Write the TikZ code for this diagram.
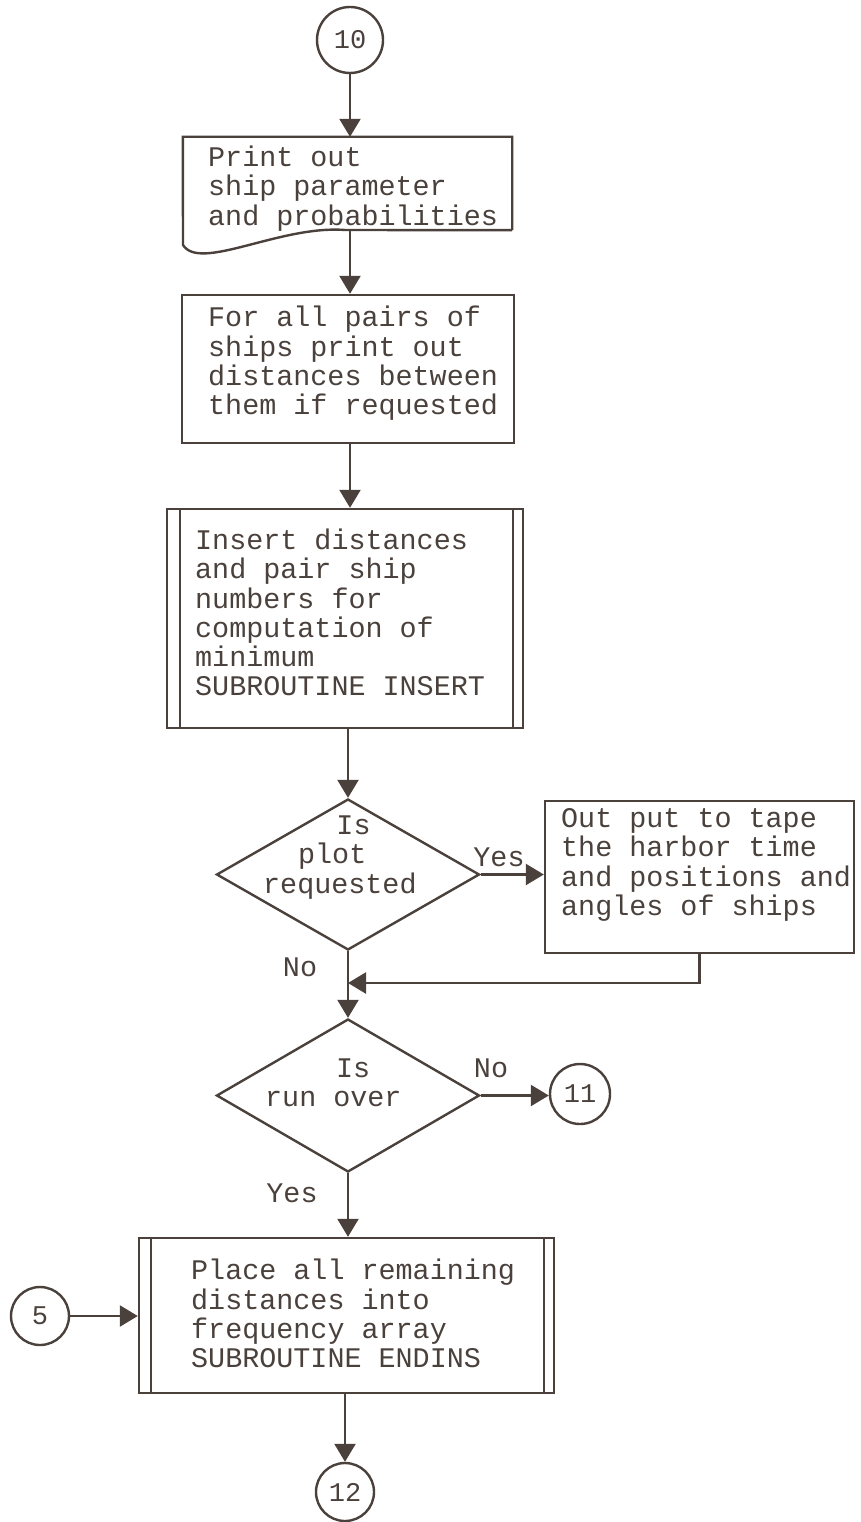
\documentclass[tikz,border=0pt]{standalone}
\usepackage{fontspec}
\newfontfamily\tw{Liberation Mono}
\usetikzlibrary{arrows.meta,shapes.geometric,calc}
\definecolor{ink}{HTML}{4A413C}
\tikzset{
  box/.style={draw=ink, rectangle, inner sep=0pt, line width=2.4pt},
  txt/.style={font=\tw\fontsize{28.4}{29.3}\selectfont, text=ink, align=left, inner sep=0pt, anchor=west},
  lab/.style={font=\tw\fontsize{28.4}{29.3}\selectfont, text=ink, inner sep=0pt},
  conn/.style={draw=ink, circle, inner sep=0pt, line width=2.4pt, font=\tw\fontsize{27}{29}\selectfont, text=ink},
  dec/.style={draw=ink, diamond, inner sep=0pt, line width=2.4pt},
  arr/.style={-{Triangle[length=18pt,width=21pt]}, draw=ink, line width=2.4pt},
  ln/.style={draw=ink, line width=2.4pt}
}
\begin{document}
\begin{tikzpicture}[x=1pt,y=-1pt]
\useasboundingbox (0,0) rectangle (860,1522);
\fill[white] (0,0) rectangle (860,1522);

% connectors (circles)
\node[conn, minimum size=66pt] (c10) at (350,40) {10};
\node[conn, minimum size=60pt] (c11) at (580,1094) {11};
\node[conn, minimum size=58pt] (c5) at (40,1316) {5};
\node[conn, minimum size=58pt] (c12) at (345,1492) {12};

% document box
\node[minimum width=329pt, minimum height=93pt, inner sep=0pt] (d1) at (347.5,183.5) {};
\draw[ln] (d1.south east) -- (d1.north east) -- (d1.north west) -- (183,245)
  .. controls (200,272) and (280,225) .. (345,230) -- (d1.south east);
\node[txt] (t1) at (208,188.5) {Print out\\ship parameter\\and probabilities};

% process box
\node[box, minimum width=332pt, minimum height=148pt] (b2) at (348,369) {};
\node[txt] (t2) at (208,363.5) {For all pairs of\\ships print out\\distances between\\them if requested};

% predefined process INSERT
\node[box, minimum width=356pt, minimum height=219pt] (b3) at (345,618.5) {};
\draw[ln] ($(b3.north west)+(14,0)$) -- ($(b3.south west)+(14,0)$);
\draw[ln] ($(b3.north east)+(-11,0)$) -- ($(b3.south east)+(-11,0)$);
\node[txt] (t3) at (195,612.5) {Insert distances\\and pair ship\\numbers for\\computation of\\minimum\\SUBROUTINE INSERT};

% decision 1
\node[dec, minimum width=263pt, minimum height=151pt] (dm1) at (348,874.5) {};
\node[txt] (q1) at (263,857.5) {\hspace*{2.58em}Is\\\hspace*{1.23em}plot\\requested};

% tape output box
\node[box, minimum width=309pt, minimum height=152pt] (b4) at (699.5,877) {};
\node[txt] (t4) at (561,865) {Out put to tape\\the harbor time\\and positions and\\angles of ships};

% decision 2
\node[dec, minimum width=263pt, minimum height=153pt] (dm2) at (348,1095.5) {};
\node[txt] (q2) at (265,1083) {\hspace*{2.5em}Is\\run over};

% predefined process ENDINS
\node[box, minimum width=415pt, minimum height=155pt] (b5) at (346.5,1315.5) {};
\draw[ln] ($(b5.north west)+(13,0)$) -- ($(b5.south west)+(13,0)$);
\draw[ln] ($(b5.north east)+(-11,0)$) -- ($(b5.south east)+(-11,0)$);
\node[txt] (t5) at (191,1313.5) {Place all remaining\\distances into\\frequency array\\SUBROUTINE ENDINS};

% labels
\node[lab] (ly1) at (499,857) {Yes};
\node[lab] (ln1) at (300,967) {No};
\node[lab] (ln2) at (491,1068) {No};
\node[lab] (ly2) at (292,1193) {Yes};

% arrows
\coordinate (jn) at (348,983);
\draw[arr] (c10.south) -- (c10.south |- d1.north);
\draw[arr] (c10.south |- d1.south) -- (c10.south |- b2.north);
\draw[arr] (c10.south |- b2.south) -- (c10.south |- b3.north);
\draw[arr] (dm1.north |- b3.south) -- (dm1.north);
\draw[arr] (dm1.east) -- (dm1.east -| b4.west);
\draw[arr] (b4.south) |- (jn);
\draw[arr] (dm1.south) -- (dm2.north);
\draw[arr] (dm2.east) -- (dm2.east -| c11.west);
\draw[arr] (dm2.south) -- (dm2.south |- b5.north);
\draw[arr] (c5.east) -- (c5.east -| b5.west);
\draw[arr] (c12.north |- b5.south) -- (c12.north);
\end{tikzpicture}
\end{document}
